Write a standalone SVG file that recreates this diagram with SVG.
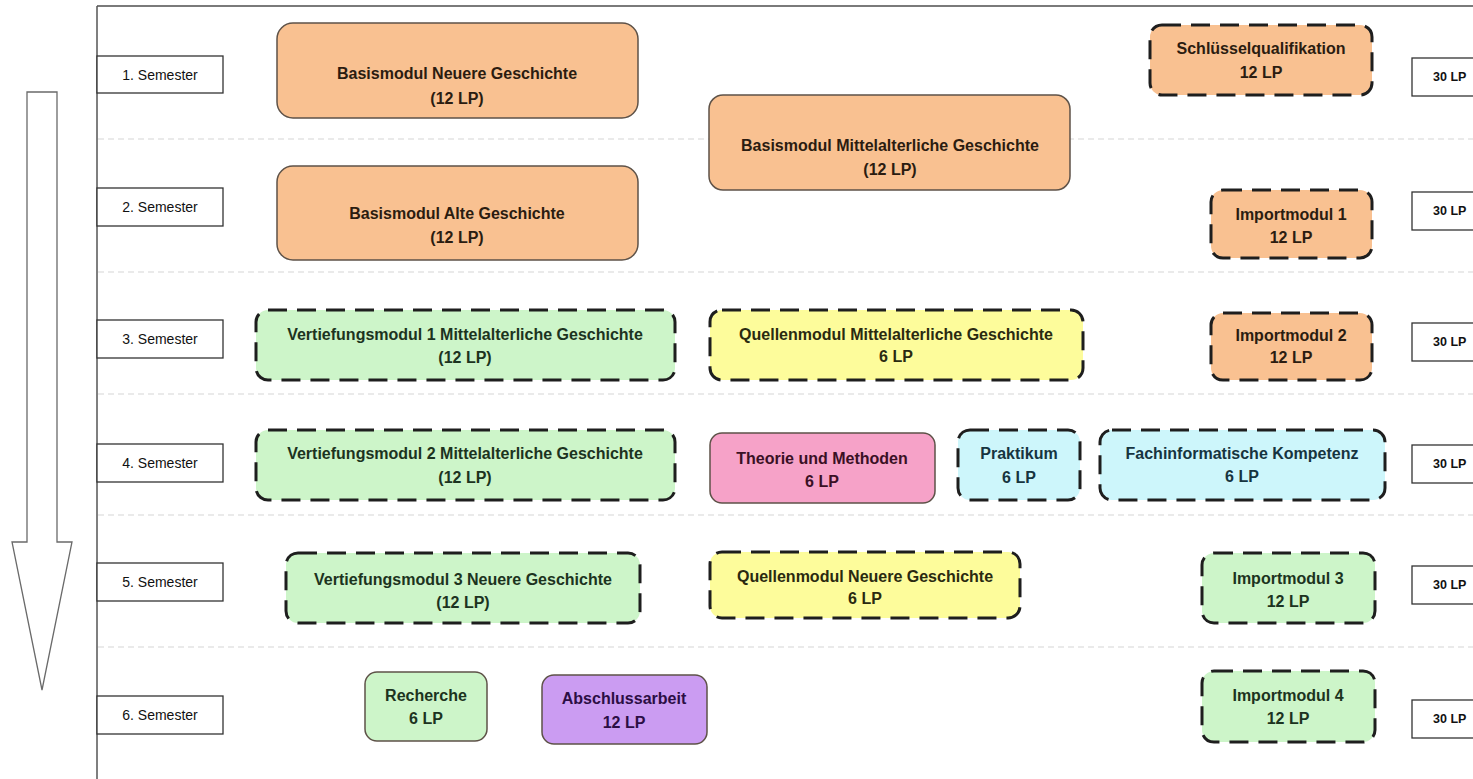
<svg xmlns="http://www.w3.org/2000/svg" width="1473" height="779" viewBox="0 0 1473 779">
<style>
text{font-family:"Liberation Sans",Arial,sans-serif;text-anchor:middle;}
.t{font-size:16px;font-weight:bold;}
.s{font-size:14px;fill:#111;}
.n{font-size:12.5px;font-weight:bold;fill:#111;text-anchor:start;}
.lbl rect{fill:#fff;stroke:#333;stroke-width:1.3;}
.solid{stroke:#5e5248;stroke-width:1.5;}
.dash{stroke:#1e1e1e;stroke-width:3;stroke-dasharray:19 10;}
.or{fill:#f9c191;}
.gr{fill:#cdf5c9;}
.ye{fill:#fdfc9b;}
.pk{fill:#f6a2c8;}
.cy{fill:#cdf6fb;}
.pu{fill:#cb9cf2;}
.tor{fill:#2b1c10;}
.tgr{fill:#1c3320;}
.tye{fill:#2a2a10;}
.tpk{fill:#3a1025;}
.tcy{fill:#16343f;}
.tpu{fill:#2c0e45;}
.sep{stroke:#d6d6d6;stroke-width:1.2;stroke-dasharray:6 4;}
</style>

<g id="frame">
<line x1="97" y1="6" x2="1473" y2="6" stroke="#7a7a7a" stroke-width="2"/>
<line x1="97" y1="6" x2="97" y2="779" stroke="#555" stroke-width="1.5"/>
</g>

<g id="separators">
<line class="sep" x1="98" y1="139" x2="1473" y2="139"/>
<line class="sep" x1="98" y1="272" x2="1473" y2="272"/>
<line class="sep" x1="98" y1="394" x2="1473" y2="394"/>
<line class="sep" x1="98" y1="515" x2="1473" y2="515"/>
<line class="sep" x1="98" y1="647" x2="1473" y2="647"/>
</g>

<g id="arrow">
<polygon points="27,92 57,92 57,542 72,542 42,690 12,542 27,542" fill="#fff" stroke="#6a6a6a" stroke-width="1.3"/>
</g>

<g id="semesters" class="lbl">
<g id="sem1"><rect x="97" y="56" width="126" height="37"/><text class="s" x="160" y="80">1. Semester</text></g>
<g id="sem2"><rect x="97" y="188" width="126" height="38"/><text class="s" x="160" y="212">2. Semester</text></g>
<g id="sem3"><rect x="97" y="320" width="126" height="38"/><text class="s" x="160" y="344">3. Semester</text></g>
<g id="sem4"><rect x="97" y="444" width="126" height="38"/><text class="s" x="160" y="468">4. Semester</text></g>
<g id="sem5"><rect x="97" y="563" width="126" height="38"/><text class="s" x="160" y="587">5. Semester</text></g>
<g id="sem6"><rect x="97" y="696" width="126" height="38"/><text class="s" x="160" y="720">6. Semester</text></g>
</g>

<g id="totals" class="lbl">
<g id="lp1"><rect x="1412" y="58" width="70" height="38"/><text class="n" x="1433" y="81">30 LP</text></g>
<g id="lp2"><rect x="1412" y="192" width="70" height="38"/><text class="n" x="1433" y="215">30 LP</text></g>
<g id="lp3"><rect x="1412" y="323" width="70" height="38"/><text class="n" x="1433" y="346">30 LP</text></g>
<g id="lp4"><rect x="1412" y="445" width="70" height="38"/><text class="n" x="1433" y="468">30 LP</text></g>
<g id="lp5"><rect x="1412" y="566" width="70" height="38"/><text class="n" x="1433" y="589">30 LP</text></g>
<g id="lp6"><rect x="1412" y="700" width="70" height="38"/><text class="n" x="1433" y="723">30 LP</text></g>
</g>

<g id="connectors"></g>

<g id="bm-neuere"><rect class="or solid" x="277" y="23" width="361" height="95" rx="16"/><text class="t tor" x="457" y="79">Basismodul Neuere Geschichte</text><text class="t tor" x="457" y="104">(12 LP)</text></g>
<g id="bm-alte"><rect class="or solid" x="277" y="166" width="361" height="94" rx="16"/><text class="t tor" x="457" y="219">Basismodul Alte Geschichte</text><text class="t tor" x="457" y="243">(12 LP)</text></g>
<g id="bm-mittel"><rect class="or solid" x="709" y="95" width="361" height="95" rx="14"/><text class="t tor" x="890" y="151">Basismodul Mittelalterliche Geschichte</text><text class="t tor" x="890" y="175">(12 LP)</text></g>
<g id="schluessel"><rect class="or dash" x="1150" y="25" width="222" height="70" rx="12"/><text class="t tor" x="1261" y="54">Schlüsselqualifikation</text><text class="t tor" x="1261" y="78">12 LP</text></g>
<g id="import1"><rect class="or dash" x="1211" y="190" width="161" height="68" rx="12"/><text class="t tor" x="1291" y="220">Importmodul 1</text><text class="t tor" x="1291" y="243">12 LP</text></g>
<g id="import2"><rect class="or dash" x="1211" y="313" width="161" height="67" rx="12"/><text class="t tor" x="1291" y="341">Importmodul 2</text><text class="t tor" x="1291" y="363">12 LP</text></g>

<g id="vm1"><rect class="gr dash" x="256" y="310" width="419" height="70" rx="12"/><text class="t tgr" x="465" y="340">Vertiefungsmodul 1 Mittelalterliche Geschichte</text><text class="t tgr" x="465" y="363">(12 LP)</text></g>
<g id="qm-mittel"><rect class="ye dash" x="710" y="310" width="373" height="70" rx="12"/><text class="t tye" x="896" y="340">Quellenmodul Mittelalterliche Geschichte</text><text class="t tye" x="896" y="362">6 LP</text></g>

<g id="vm2"><rect class="gr dash" x="256" y="430" width="419" height="70" rx="12"/><text class="t tgr" x="465" y="459">Vertiefungsmodul 2 Mittelalterliche Geschichte</text><text class="t tgr" x="465" y="483">(12 LP)</text></g>
<g id="theorie"><rect class="pk solid" x="710" y="433" width="225" height="70" rx="12"/><text class="t tpk" x="822" y="464">Theorie und Methoden</text><text class="t tpk" x="822" y="487">6 LP</text></g>
<g id="praktikum"><rect class="cy dash" x="958" y="430" width="122" height="70" rx="12"/><text class="t tcy" x="1019" y="459">Praktikum</text><text class="t tcy" x="1019" y="483">6 LP</text></g>
<g id="fachinfo"><rect class="cy dash" x="1100" y="430" width="285" height="70" rx="12"/><text class="t tcy" x="1242" y="459">Fachinformatische Kompetenz</text><text class="t tcy" x="1242" y="482">6 LP</text></g>

<g id="vm3"><rect class="gr dash" x="286" y="553" width="354" height="70" rx="12"/><text class="t tgr" x="463" y="585">Vertiefungsmodul 3 Neuere Geschichte</text><text class="t tgr" x="463" y="608">(12 LP)</text></g>
<g id="qm-neuere"><rect class="ye dash" x="710" y="552" width="310" height="66" rx="12"/><text class="t tye" x="865" y="582">Quellenmodul Neuere Geschichte</text><text class="t tye" x="865" y="604">6 LP</text></g>
<g id="import3"><rect class="gr dash" x="1202" y="553" width="173" height="70" rx="12"/><text class="t tgr" x="1288" y="584">Importmodul 3</text><text class="t tgr" x="1288" y="607">12 LP</text></g>

<g id="recherche"><rect class="gr solid" x="365" y="672" width="122" height="69" rx="12"/><text class="t tgr" x="426" y="701">Recherche</text><text class="t tgr" x="426" y="724">6 LP</text></g>
<g id="abschluss"><rect class="pu solid" x="542" y="675" width="165" height="69" rx="12"/><text class="t tpu" x="624" y="704">Abschlussarbeit</text><text class="t tpu" x="624" y="728">12 LP</text></g>
<g id="import4"><rect class="gr dash" x="1202" y="671" width="173" height="71" rx="12"/><text class="t tgr" x="1288" y="701">Importmodul 4</text><text class="t tgr" x="1288" y="724">12 LP</text></g>
</svg>
